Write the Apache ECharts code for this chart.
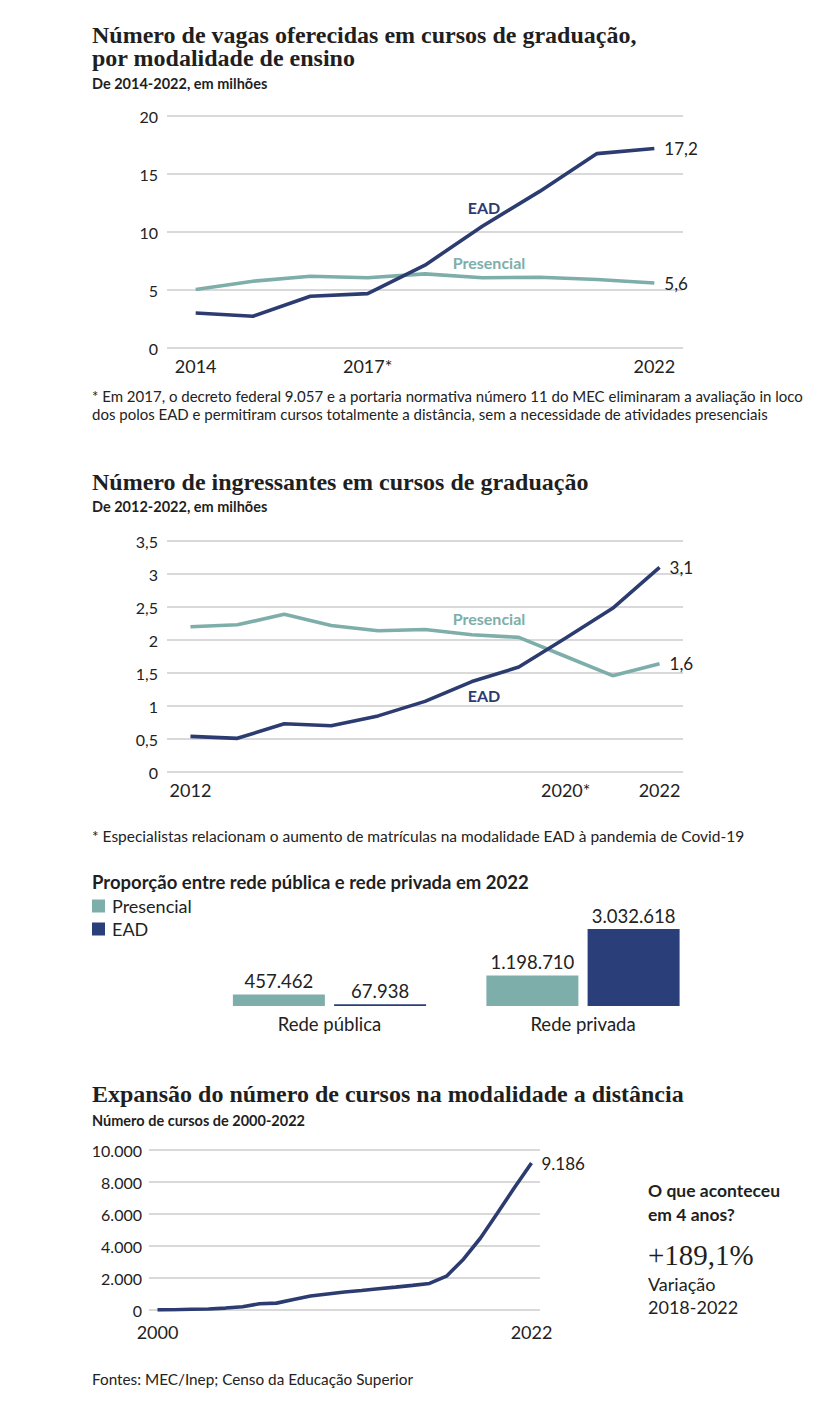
<!DOCTYPE html>
<html>
<head>
<meta charset="utf-8">
<script src="https://cdn.jsdelivr.net/npm/echarts@6/dist/echarts.min.js"></script>
<style>
html,body{margin:0;padding:0;background:#fff;}
#c{width:821px;height:1409px;}
</style>
</head>
<body>
<div id="c"></div>
<script>
// ---- Data ----
const years1 = ['2014','2015','2016','2017','2018','2019','2020','2021','2022'];
const xLabels1 = {'2014':'2014','2017':'2017*','2022':'2022'};
const vagasEAD = [3.02, 2.74, 4.46, 4.69, 7.14, 10.5, 13.5, 16.76, 17.2];
const vagasPres = [5.04, 5.76, 6.19, 6.05, 6.39, 6.05, 6.1, 5.9, 5.6];

const years2 = ['2012','2013','2014','2015','2016','2017','2018','2019','2020','2021','2022'];
const xLabels2 = {'2012':'2012','2020':'2020*','2022':'2022'};
const ingEAD = [0.54, 0.51, 0.73, 0.70, 0.85, 1.07, 1.37, 1.59, 2.03, 2.48, 3.1];
const ingPres = [2.20, 2.23, 2.39, 2.22, 2.14, 2.16, 2.08, 2.04, 1.75, 1.46, 1.64];

const redes = ['Rede pública', 'Rede privada'];
const redePres = [457462, 1198710];
const redeEAD = [67938, 3032618];

const years4 = ['2000','2001','2002','2003','2004','2005','2006','2007','2008','2009','2010','2011','2012','2013','2014','2015','2016','2017','2018','2019','2020','2021','2022'];
const xLabels4 = {'2000':'2000','2022':'2022'};
const cursosEAD = [10, 20, 50, 60, 120, 200, 390, 430, 660, 870, 1000, 1120, 1220, 1330, 1430, 1540, 1660, 2115, 3177, 4500, 6060, 7660, 9186];

// ---- Styles ----
const NAVY = '#2c3c70';
const NAVYBAR = '#2a3e7a';
const TEAL = '#7eaeaa';
const GRID = '#cccccc';
const TXT = '#1f1f1f';
const SANS = 'Lato';
const SERIF = 'Liberation Serif';

const dec = v => String(v).replace('.', ',');
const thousands = v => String(Math.round(v)).replace(/\B(?=(\d{3})+(?!\d))/g, '.');

function t(x, y, text, font, fill, align, lh) {
  const s = {
    text: text, font: font, fill: fill || TXT,
    align: align || 'left', verticalAlign: lh ? 'top' : 'middle',
    textAlign: align || 'left', textVerticalAlign: lh ? 'top' : 'middle'
  };
  if (lh) s.lineHeight = lh;
  return {type: 'text', x: x, y: y, silent: true, style: s};
}

function yAx(gi, max, interval, fmt, margin) {
  return {
    gridIndex: gi, type: 'value', min: 0, max: max, interval: interval,
    axisLine: {show: false}, axisTick: {show: false},
    axisLabel: {formatter: fmt, color: '#222', fontFamily: SANS, fontSize: 16, margin: margin},
    splitLine: {lineStyle: {color: GRID, width: 1.5}}
  };
}
function xAx(gi, cats, map, margin) {
  return {
    gridIndex: gi, type: 'category', data: cats, boundaryGap: true,
    axisLine: {show: false}, axisTick: {show: false},
    axisLabel: {interval: 0, formatter: v => map[v] || '', color: '#222', fontFamily: SANS, fontSize: 18, margin: margin}
  };
}
function lineS(name, xi, data, color, lbl) {
  return {
    name: name, type: 'line', xAxisIndex: xi, yAxisIndex: xi, data: data,
    symbol: 'none', smooth: false, silent: true,
    lineStyle: {color: color, width: 3.6},
    itemStyle: {color: color},
    endLabel: {show: true, formatter: lbl, distance: 10, color: '#222', fontFamily: SANS, fontSize: 17}
  };
}

const chart = echarts.init(document.getElementById('c'), null, {renderer: 'svg'});
chart.setOption({
  animation: false,
  backgroundColor: '#fff',
  grid: [
    {left: 167, width: 516, top: 116, height: 232},
    {left: 167, width: 516, top: 541, height: 231},
    {left: 202.75, width: 507, top: 929, height: 77},
    {left: 149, width: 391, top: 1150, height: 160}
  ],
  xAxis: [
    xAx(0, years1, xLabels1, 9),
    xAx(1, years2, xLabels2, 9),
    {gridIndex: 2, type: 'category', data: redes, axisLine: {show: false}, axisTick: {show: false},
     axisLabel: {color: '#222', fontFamily: SANS, fontSize: 18.5, margin: 8}},
    xAx(3, years4, xLabels4, 13)
  ],
  yAxis: [
    yAx(0, 20, 5, v => dec(v), 9),
    yAx(1, 3.5, 0.5, v => dec(v), 9),
    {gridIndex: 2, type: 'value', min: 0, max: Math.max(...redePres, ...redeEAD), show: false},
    yAx(3, 10000, 2000, v => thousands(v), 7)
  ],
  legend: {
    orient: 'vertical', left: 92, top: 897, itemWidth: 13, itemHeight: 13, itemGap: 5,
    icon: 'rect', selectedMode: false, padding: 0,
    data: ['Presencial', 'EAD'],
    textStyle: {fontFamily: SANS, fontSize: 18, color: '#222', padding: [0, 0, 0, 2]}
  },
  series: [
    lineS('Vagas presencial', 0, vagasPres, TEAL, p => dec(p.value)),
    lineS('Vagas EAD', 0, vagasEAD, NAVY, p => dec(p.value)),
    lineS('Ingressantes presencial', 1, ingPres, TEAL, p => dec(p.value.toFixed(1))),
    lineS('Ingressantes EAD', 1, ingEAD, NAVY, p => dec(p.value.toFixed(1))),
    {name: 'Presencial', type: 'bar', xAxisIndex: 2, yAxisIndex: 2, data: redePres,
     barWidth: 92, barGap: '10%', itemStyle: {color: TEAL}, silent: true,
     label: {show: true, position: 'top', distance: 4, formatter: p => thousands(p.value), color: '#222', fontFamily: SANS, fontSize: 18.5}},
    {name: 'EAD', type: 'bar', xAxisIndex: 2, yAxisIndex: 2, data: redeEAD,
     barWidth: 92, barGap: '10%', barMinHeight: 1.5, itemStyle: {color: NAVYBAR}, silent: true,
     label: {show: true, position: 'top', distance: 4, formatter: p => thousands(p.value), color: '#222', fontFamily: SANS, fontSize: 18.5}},
    lineS('Cursos EAD', 3, cursosEAD, NAVY, p => thousands(p.value))
  ],
  graphic: [
    t(92, 23, 'Número de vagas oferecidas em cursos de graduação,\npor modalidade de ensino', 'bold 24px "' + SERIF + '"', TXT, 'left', 23.5),
    t(92, 83, 'De 2014-2022, em milhões', 'bold 14.5px ' + SANS),
    t(484, 207, 'EAD', 'bold 16px ' + SANS, NAVY, 'center'),
    t(489, 262, 'Presencial', 'bold 16px ' + SANS, TEAL, 'center'),
    t(92, 387, '* Em 2017, o decreto federal 9.057 e a portaria normativa número 11 do MEC eliminaram a avaliação in loco\ndos polos EAD e permitiram cursos totalmente a distância, sem a necessidade de atividades presenciais', '15px ' + SANS, '#222', 'left', 18),

    t(92, 482, 'Número de ingressantes em cursos de graduação', 'bold 24px "' + SERIF + '"'),
    t(92, 506, 'De 2012-2022, em milhões', 'bold 14.5px ' + SANS),
    t(489, 618, 'Presencial', 'bold 16px ' + SANS, TEAL, 'center'),
    t(484, 695, 'EAD', 'bold 16px ' + SANS, NAVY, 'center'),
    t(92, 836, '* Especialistas relacionam o aumento de matrículas na modalidade EAD à pandemia de Covid-19', '15.5px ' + SANS, '#222'),

    t(92, 882, 'Proporção entre rede pública e rede privada em 2022', 'bold 18.5px ' + SANS),

    t(92, 1094, 'Expansão do número de cursos na modalidade a distância', 'bold 24px "' + SERIF + '"'),
    t(92, 1120, 'Número de cursos de 2000-2022', 'bold 14.5px ' + SANS),
    t(648, 1178, 'O que aconteceu\nem 4 anos?', 'bold 17.5px ' + SANS, TXT, 'left', 24),
    t(648, 1255, '+189,1%', '29px "' + SERIF + '"'),
    t(648, 1272, 'Variação\n2018-2022', '18px ' + SANS, '#222', 'left', 23),

    t(92, 1379, 'Fontes: MEC/Inep; Censo da Educação Superior', '15.3px ' + SANS, '#222')
  ]
});
</script>
</body>
</html>
